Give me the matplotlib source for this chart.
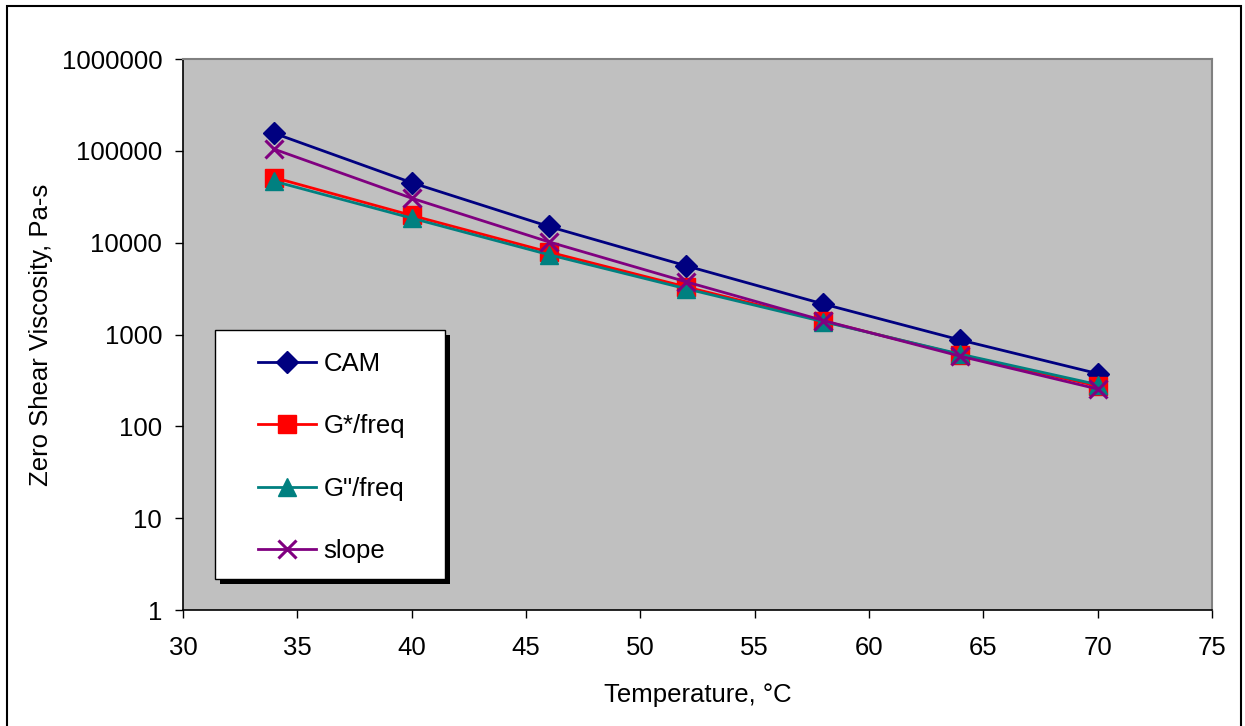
import matplotlib
matplotlib.use("Agg")
import matplotlib.pyplot as plt
from matplotlib.patches import Rectangle

plt.rcParams['font.family'] = ['Liberation Sans', 'DejaVu Sans']

# Zero shear viscosity (Pa-s) versus temperature (°C)
temperature = [34, 40, 46, 52, 58, 64, 70]
cam = [155000, 45000, 15000, 5600, 2150, 870, 375]
g_star_freq = [51000, 19800, 7900, 3300, 1400, 600, 275]
g_dprime_freq = [46500, 18500, 7400, 3150, 1380, 610, 285]
slope = [104000, 30500, 10200, 3750, 1420, 580, 255]

series_names = ['CAM', 'G*/freq', 'G"/freq', 'slope']

FS = 18.5
W, H = 1245, 726
fig = plt.figure(figsize=(W / 100, H / 100), dpi=100)
fig.patch.set_facecolor('white')

# Outer chart border (runs off the bottom of the canvas)
fig.add_artist(Rectangle((7 / W, 1 - 740 / H), (1241 - 7) / W, (740 - 6) / H,
                         transform=fig.transFigure, fill=False,
                         edgecolor='black', linewidth=1.5))

AX_L, AX_R, AX_T, AX_B = 183, 1212, 59, 610
ax = fig.add_axes([AX_L / W, 1 - AX_B / H, (AX_R - AX_L) / W, (AX_B - AX_T) / H])
ax.set_facecolor('#c0c0c0')
for s in ax.spines.values():
    s.set_color('#808080')
    s.set_linewidth(1.5)
ax.spines['left'].set_color('black')
ax.spines['bottom'].set_color('black')
ax.spines['left'].set_linewidth(1.2)
ax.spines['bottom'].set_linewidth(1.2)

styles = [
    dict(color='#000080', marker='D', markersize=11, mfc='#000080', mec='#000080'),
    dict(color='#ff0000', marker='s', markersize=13, mfc='#ff0000', mec='#ff0000'),
    dict(color='#008080', marker='^', markersize=13, mfc='#008080', mec='#008080'),
    dict(color='#800080', marker='x', markersize=13, mew=2.2),
]
data = [cam, g_star_freq, g_dprime_freq, slope]
handles = []
for name, ys, st in zip(series_names, data, styles):
    h, = ax.plot(temperature, ys, linewidth=2, label=name, **st)
    handles.append(h)

ax.set_yscale('log')
ax.set_ylim(1, 1e6)
ax.set_xlim(30, 75)
ax.set_xticks(range(30, 80, 5))
yt = [1, 10, 100, 1000, 10000, 100000, 1000000]
ax.set_yticks(yt)
ax.set_yticklabels([str(v) for v in yt])
ax.minorticks_off()
ax.tick_params(axis='both', direction='out', length=6, width=1, labelsize=FS,
               colors='black')
ax.tick_params(axis='x', pad=13)
ax.tick_params(axis='y', pad=9)

ax.set_xlabel('Temperature, °C', fontsize=FS, labelpad=16)
ax.set_ylabel('Zero Shear Viscosity, Pa-s', fontsize=FS, labelpad=6)

# Legend: white box with black drop shadow, entries placed inside it
def px_to_axes(x, y):
    return (x - AX_L) / (AX_R - AX_L), (AX_B - y) / (AX_B - AX_T)

bx0, by0 = px_to_axes(215, 579)
bx1, by1 = px_to_axes(445, 330)
sx0, sy0 = px_to_axes(220, 584)
ax.add_patch(Rectangle((sx0, sy0), bx1 - bx0, by1 - by0, transform=ax.transAxes,
                       facecolor='black', edgecolor='none', zorder=4))
ax.add_patch(Rectangle((bx0, by0), bx1 - bx0, by1 - by0, transform=ax.transAxes,
                       facecolor='white', edgecolor='black', linewidth=1, zorder=4.5))

leg = ax.legend(handles=handles, loc='upper left',
                bbox_to_anchor=px_to_axes(258, 352),
                fontsize=FS, frameon=False, labelspacing=1.49,
                handlelength=2.25, handletextpad=0.3, borderpad=0,
                borderaxespad=0, markerscale=1.0)
leg.set_zorder(5)

fig.savefig('out.png', dpi=100, facecolor='white')
